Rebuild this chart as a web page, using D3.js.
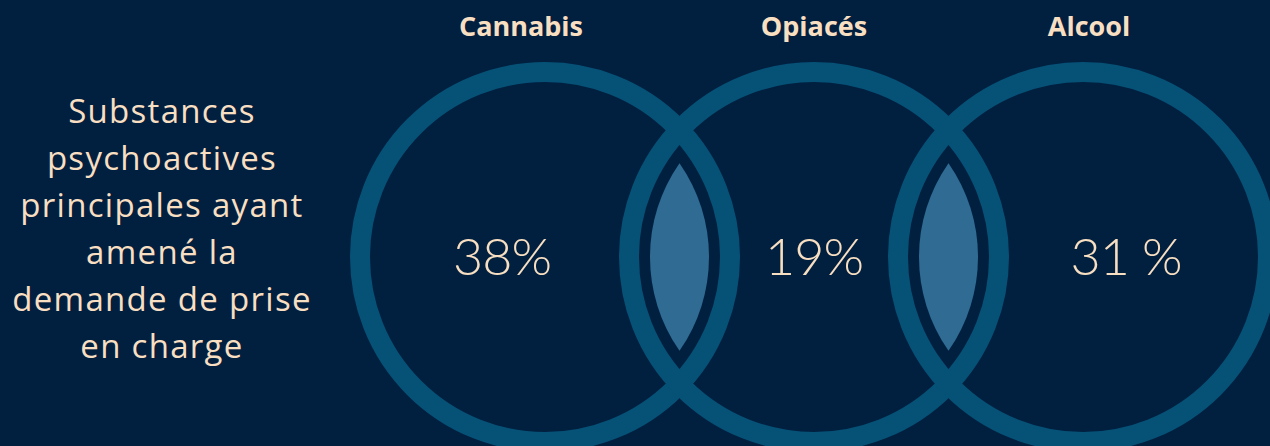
<!DOCTYPE html>
<html>
<head>
<meta charset="utf-8">
<script src="https://cdn.jsdelivr.net/npm/d3@7"></script>
<style>
  html, body { margin: 0; padding: 0; background: #012040; }
  svg { display: block; }
</style>
</head>
<body>
<svg id="chart" width="1270" height="446"></svg>
<script>
// Substances and their shares
const categories = ["Cannabis", "Opiacés", "Alcool"];
const shares = [38, 19, 31];
const shareLabels = ["38%", "19%", "31 %"];
const titleLines = [
  "Substances",
  "psychoactives",
  "principales ayant",
  "amené la",
  "demande de prise",
  "en charge"
];

const W = 1270, H = 446;
const bg = "#012040", ring = "#065277", lens = "#2f6b93", ink = "#f9dfc2";
const textFont = "'Open Sans', 'Noto Sans', sans-serif";
const numFont = "Lato, 'Open Sans', sans-serif";

const svg = d3.select("#chart");
svg.append("rect").attr("width", W).attr("height", H).attr("fill", bg);

// circle centres along a point scale
const x = d3.scalePoint().domain(categories).range([545, 1083]);
const cy = 257;
const rRing = 185, ringWidth = 20, rLens = 164;

// rings
svg.append("g").selectAll("circle")
  .data(categories)
  .join("circle")
  .attr("cx", d => x(d))
  .attr("cy", cy)
  .attr("r", rRing)
  .attr("fill", "none")
  .attr("stroke", ring)
  .attr("stroke-width", ringWidth);

// overlap lenses between neighbouring circles
function lensPath(x1, x2, r) {
  const mx = (x1 + x2) / 2;
  const h = Math.sqrt(r * r - ((x2 - x1) / 2) ** 2);
  return `M${mx},${cy - h} A${r},${r} 0 0 1 ${mx},${cy + h} A${r},${r} 0 0 1 ${mx},${cy - h} Z`;
}
const pairs = d3.pairs(categories);
svg.append("g").selectAll("path")
  .data(pairs)
  .join("path")
  .attr("d", ([a, b]) => lensPath(x(a), x(b), rLens))
  .attr("fill", lens);

// category headers
const headerX = [521, 814, 1089];
svg.append("g").selectAll("text")
  .data(categories)
  .join("text")
  .attr("x", (d, i) => headerX[i])
  .attr("y", 36)
  .attr("text-anchor", "middle")
  .attr("fill", ink)
  .attr("font-family", textFont)
  .attr("font-weight", 700)
  .attr("font-size", 27)
  .text(d => d);

// share values
const valueX = [502, 814, 1126];
svg.append("g").selectAll("text")
  .data(shareLabels)
  .join("text")
  .attr("x", (d, i) => valueX[i])
  .attr("y", 275)
  .attr("text-anchor", "middle")
  .attr("fill", ink)
  .attr("font-family", numFont)
  .attr("font-weight", 300)
  .attr("font-size", 52)
  .attr("letter-spacing", -1)
  .text(d => d);

// left title block
svg.append("text")
  .attr("text-anchor", "middle")
  .attr("fill", ink)
  .attr("font-family", textFont)
  .attr("font-weight", 500)
  .attr("font-size", 33)
  .attr("letter-spacing", 1.3)
  .selectAll("tspan")
  .data(titleLines)
  .join("tspan")
  .attr("x", 162)
  .attr("y", (d, i) => 123 + i * 47)
  .text(d => d);
</script>
</body>
</html>
